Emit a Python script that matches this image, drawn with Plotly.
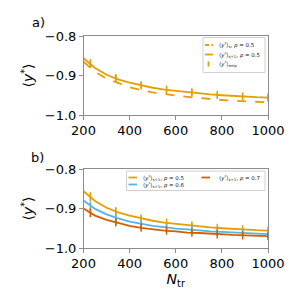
import plotly.graph_objects as go

# ---- data ----
n_curve = [200, 250, 300, 350, 400, 450, 500, 550, 600, 650, 700, 750, 800, 850, 900, 950, 1000]
y_s1_r05 = [-0.856, -0.881, -0.898, -0.910, -0.918, -0.925, -0.931, -0.936, -0.939, -0.943,
            -0.945, -0.948, -0.950, -0.952, -0.953, -0.955, -0.956]
y_s_r05 = [-0.865, -0.891, -0.908, -0.920, -0.930, -0.937, -0.943, -0.947, -0.951, -0.954,
           -0.957, -0.960, -0.962, -0.964, -0.965, -0.967, -0.968]
y_s1_r06 = [-0.880, -0.901, -0.915, -0.925, -0.933, -0.939, -0.944, -0.947, -0.951, -0.953,
            -0.956, -0.958, -0.959, -0.961, -0.962, -0.964, -0.965]
y_s1_r07 = [-0.900, -0.918, -0.929, -0.937, -0.944, -0.949, -0.953, -0.956, -0.958, -0.961,
            -0.962, -0.964, -0.966, -0.967, -0.968, -0.969, -0.970]

n_emp = [230, 340, 450, 560, 670, 780, 890, 1000]
emp_r05 = [-0.870, -0.907, -0.925, -0.936, -0.943, -0.949, -0.953, -0.956]
emp_r06 = [-0.893, -0.923, -0.939, -0.948, -0.954, -0.959, -0.962, -0.965]
emp_r07 = [-0.911, -0.935, -0.948, -0.956, -0.961, -0.965, -0.968, -0.970]
err_emp = [0.011, 0.008, 0.007, 0.006, 0.006, 0.005, 0.005, 0.005]

x_ticks = [200, 400, 600, 800, 1000]
y_ticks = [-1.0, -0.9, -0.8]
y_ticktext = ["\u22121.0", "\u22120.9", "\u22120.8"]

YLAB = "\u27e8<i>y</i><sup>*</sup>\u27e9"
legend_a_labels = [YLAB + "<sub>s</sub>, <i>\u03c1</i> = 0.5",
                   YLAB + "<sub>s+1</sub>, <i>\u03c1</i> = 0.5",
                   YLAB + "<sub>emp</sub>"]
legend_b_labels = [YLAB + "<sub>s+1</sub>, <i>\u03c1</i> = 0.5",
                   YLAB + "<sub>s+1</sub>, <i>\u03c1</i> = 0.6",
                   YLAB + "<sub>s+1</sub>, <i>\u03c1</i> = 0.7"]

ORANGE = "#E69F00"
BLUE = "#56B4E9"
RED = "#D55E00"
FONT = "DejaVu Sans"

# page pixel -> paper fraction (page body has an 8px margin; figure is 292x292)
W = H = 292
OFF = 8
def px(x):
    return (x - OFF) / W
def py(y):
    return 1 - (y - OFF) / H

fig = go.Figure()

# panel a
fig.add_trace(go.Scatter(x=n_curve, y=y_s_r05, mode="lines", line=dict(color=ORANGE, width=1.8, dash="dash"),
                         name=legend_a_labels[0], xaxis="x", yaxis="y", showlegend=False))
fig.add_trace(go.Scatter(x=n_curve, y=y_s1_r05, mode="lines", line=dict(color=ORANGE, width=1.8),
                         name=legend_a_labels[1], xaxis="x", yaxis="y", showlegend=False))
fig.add_trace(go.Scatter(x=n_emp, y=emp_r05, mode="markers",
                         marker=dict(symbol="line-ns-open", size=6, color=ORANGE, line=dict(color=ORANGE, width=1.6)),
                         error_y=dict(type="data", array=err_emp, color=ORANGE, thickness=1.4, width=0),
                         name=legend_a_labels[2], xaxis="x", yaxis="y", showlegend=False))

# panel b
for ys, emp, col, lab in [(y_s1_r05, emp_r05, ORANGE, legend_b_labels[0]),
                          (y_s1_r06, emp_r06, BLUE, legend_b_labels[1]),
                          (y_s1_r07, emp_r07, RED, legend_b_labels[2])]:
    fig.add_trace(go.Scatter(x=n_curve, y=ys, mode="lines", line=dict(color=col, width=1.8),
                             name=lab, xaxis="x2", yaxis="y2", showlegend=False))
    fig.add_trace(go.Scatter(x=n_emp, y=emp, mode="markers",
                             marker=dict(symbol="line-ns-open", size=6, color=col, line=dict(color=col, width=1.4)),
                             error_y=dict(type="data", array=err_emp, color=col, thickness=1.3, width=0),
                             showlegend=False, xaxis="x2", yaxis="y2"))

axis_common = dict(showline=True, linecolor="#8c8c8c", linewidth=1, mirror=True, ticks="outside",
                   ticklen=3.5, tickcolor="#8c8c8c", showgrid=False, zeroline=False, automargin=False,
                   tickfont=dict(family=FONT, size=13, color="black"))

# ---- legend boxes (drawn as shapes + text) ----
shapes = []
annotations = []
def legend_box(x0, y0, x1, y1):
    shapes.append(dict(type="rect", xref="paper", yref="paper", x0=px(x0), x1=px(x1), y0=py(y1), y1=py(y0),
                       fillcolor="white", line=dict(color="#cccccc", width=1), layer="above", opacity=0.9))
def legend_line(x0, x1, y, col, dash="solid"):
    shapes.append(dict(type="line", xref="paper", yref="paper", x0=px(x0), x1=px(x1), y0=py(y), y1=py(y),
                       line=dict(color=col, width=1.8, dash=dash), layer="above"))
def legend_vbar(x, y0, y1, col):
    shapes.append(dict(type="line", xref="paper", yref="paper", x0=px(x), x1=px(x), y0=py(y1), y1=py(y0),
                       line=dict(color=col, width=1.8), layer="above"))
def legend_text(x, y, txt):
    annotations.append(dict(text=txt, x=px(x), y=py(y), xref="paper", yref="paper", showarrow=False,
                            xanchor="left", yanchor="middle", font=dict(family=FONT, size=5.5, color="#222222")))

legend_box(203, 37.5, 265, 72.5)
legend_line(205, 213, 45, ORANGE, dash="4px,2.5px")
legend_text(217, 45, legend_a_labels[0])
legend_line(205, 213, 54.5, ORANGE)
legend_text(217, 54.5, legend_a_labels[1])
legend_vbar(208.5, 61.5, 66.5, ORANGE)
legend_text(217, 64, legend_a_labels[2])

legend_box(126.5, 171, 265, 190.5)
legend_line(128.5, 137, 177.5, ORANGE)
legend_text(140.5, 177.5, legend_b_labels[0])
legend_line(128.5, 137, 184.5, BLUE)
legend_text(140.5, 184.5, legend_b_labels[1])
legend_line(201.5, 210, 177.5, RED)
legend_text(217, 177.5, legend_b_labels[2])

annotations += [
    dict(text="a)", x=px(29.5), y=py(23), xref="paper", yref="paper", showarrow=False,
         font=dict(family=FONT, size=13), xanchor="left", yanchor="middle"),
    dict(text="b)", x=px(29), y=py(157), xref="paper", yref="paper", showarrow=False,
         font=dict(family=FONT, size=13), xanchor="left", yanchor="middle"),
]

fig.update_layout(
    width=W, height=H, margin=dict(l=0, r=0, t=0, b=0, autoexpand=False),
    paper_bgcolor="white", plot_bgcolor="white",
    font=dict(family=FONT, color="black"),
    showlegend=False,
    xaxis=dict(domain=[px(83.5), px(268)], range=[200, 1000], tickvals=x_ticks, anchor="y", **axis_common),
    yaxis=dict(domain=[py(115), py(36)], range=[-1.0, -0.8], tickvals=y_ticks, ticktext=y_ticktext, anchor="x",
               title=dict(text=YLAB, font=dict(family=FONT, size=14), standoff=7),
               **axis_common),
    xaxis2=dict(domain=[px(83.5), px(268)], range=[200, 1000], tickvals=x_ticks, anchor="y2",
                title=dict(text="<i>N</i><sub>tr</sub>", font=dict(family=FONT, size=14), standoff=3),
                **axis_common),
    yaxis2=dict(domain=[py(248), py(169)], range=[-1.0, -0.8], tickvals=y_ticks, ticktext=y_ticktext, anchor="x2",
                title=dict(text=YLAB, font=dict(family=FONT, size=14), standoff=7),
                **axis_common),
    shapes=shapes,
    annotations=annotations,
)

fig.write_html("out.html")
